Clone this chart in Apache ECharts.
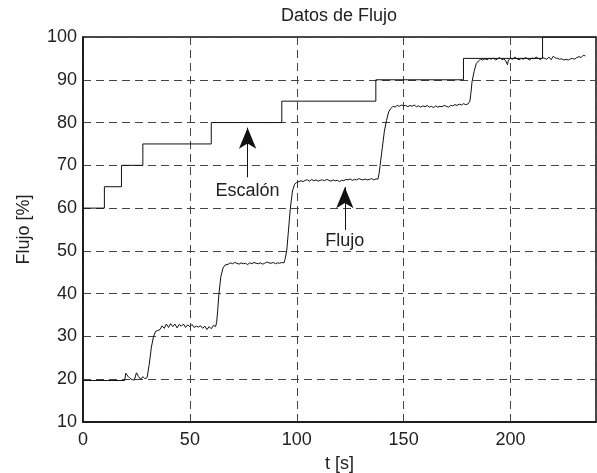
<!DOCTYPE html>
<html lang="es">
<head>
    <meta charset="UTF-8">
    <title>Datos de Flujo</title>
    <script src="https://cdn.jsdelivr.net/npm/echarts@6/dist/echarts.min.js"></script>
    <style>
        html, body { margin: 0; padding: 0; background: #fff; }
        #main { width: 597px; height: 473px; }
    </style>
</head>
<body>
<div id="main"></div>
<script>
    // escalon de referencia [t, %]
    var escalon = [[0, 60], [10, 65], [18, 70], [28, 75], [60, 80], [93, 85], [137, 90], [178, 95], [215, 100], [240, 100]];

    // flujo medido [t, %]
    var flujo = [
        [0, 19.7], [19.5, 19.7], [20, 21.4], [21, 20.7], [22, 20.2], [23, 19.9], [24, 19.8], [25, 21.5], [26, 20.6], [27, 20.0],
        [28, 20.6], [29, 20.1], [30, 20.4], [31, 23.5], [32, 27.5], [33, 30.0], [34, 31.2], [35, 31.4], [36, 31.6],
        [37, 32.5], [38, 31.9], [39, 32.9], [40, 32.1], [41, 33.0], [42, 32.3], [43, 32.9], [44, 32.0], [45, 32.8], [46, 32.4],
        [47, 32.9], [48, 32.1], [49, 32.7], [50, 32.3], [51, 32.8], [52, 32.1], [53, 32.4], [54, 32.2], [55, 32.5], [56, 31.9],
        [57, 32.4], [58, 31.6], [59, 32.3], [60, 31.8], [61, 32.6], [62, 32.3],
        [62.5, 33.2], [63, 36], [63.6, 40], [64.5, 44], [65.5, 46], [66.5, 46.7], [67, 47.1], [68, 46.9], [69, 47.2], [70, 47.0],
        [71, 47.3], [72, 47.1], [73, 46.9], [74, 47.2], [75, 47.0], [76, 47.1], [77, 46.8], [78, 47.2], [79, 47.0], [80, 47.3],
        [81, 47.1], [82, 47.0], [83, 47.2], [84, 46.9], [85, 47.1], [86, 47.4], [87, 47.2], [88, 47.1], [89, 47.3], [90, 47.0],
        [91, 47.2], [92, 47.1], [93, 47.3], [94, 47.2],
        [94.5, 48], [95.3, 50], [96, 54], [97, 60], [98, 64], [99, 65.6], [100, 66.0], [101, 66.2], [102, 66.4], [103, 66.2],
        [104, 66.5], [105, 66.6], [106, 66.3], [107, 66.7], [108, 66.4], [109, 66.6], [110, 66.3], [111, 66.5], [112, 66.6],
        [113, 66.4], [114, 66.7], [115, 66.5], [116, 66.3], [117, 66.6], [118, 66.4], [119, 66.5], [120, 66.2], [121, 66.5],
        [122, 66.4], [123, 66.7], [124, 66.6], [125, 66.8], [126, 66.5], [127, 66.7], [128, 66.6], [129, 66.9], [130, 66.7],
        [131, 66.6], [132, 66.8], [133, 66.6], [134, 66.7], [135, 66.9], [136, 66.6], [137, 66.8], [138, 66.8],
        [138.5, 68], [139, 70], [140, 74], [141, 78], [142, 80.5], [143, 82.5], [144, 83.3], [145, 83.8], [146, 83.6], [147, 84.0],
        [148, 83.8], [149, 84.1], [150, 83.9], [151, 84.0], [152, 83.7], [153, 84.0], [154, 83.8], [155, 84.1], [156, 83.7],
        [157, 83.9], [158, 83.6], [159, 83.9], [160, 83.7], [161, 84.0], [162, 83.6], [163, 83.8], [164, 83.5], [165, 83.9],
        [166, 83.6], [167, 83.8], [168, 83.7], [169, 84.0], [170, 83.8], [171, 83.6], [172, 84.0], [173, 83.9], [174, 84.2],
        [175, 84.0], [176, 84.3], [177, 84.1], [178, 84.4], [179, 84.2], [180, 84.3],
        [181, 85], [181.5, 87], [182, 89.5], [183, 92], [184, 93.8], [185, 94.4], [186, 94.8], [187, 94.6], [188, 94.9],
        [189, 94.7], [190, 95.0], [191, 94.8], [192, 95.1], [193, 94.6], [194, 94.9], [195, 95.2], [196, 94.7], [197, 94.9],
        [198, 94.2], [198.6, 93.5], [199, 94.6], [200, 95.0], [201, 94.8], [202, 95.3], [203, 94.9], [204, 94.7], [205, 95.0],
        [206, 94.8], [207, 95.2], [208, 94.9], [209, 94.6], [210, 95.1], [211, 94.9], [212, 95.3], [213, 95.0], [214, 94.7],
        [215, 95.2], [216, 95.0], [217, 94.8], [218, 95.3], [219, 94.7], [220, 95.5], [221, 95.1], [222, 95.0], [223, 94.8],
        [224, 94.9], [225, 94.6], [226, 94.8], [227, 94.6], [228, 94.9], [229, 95.0], [230, 94.8], [231, 95.2], [232, 95.4],
        [233, 95.2], [234, 95.7], [235, 95.6]
    ];

    // anotaciones: flecha desde / hasta, posicion del texto
    var flechaEscalon = [[77, 67.2], [77, 78.8]];
    var textoEscalon = [77, 63.9];
    var flechaFlujo = [[122.5, 54.9], [122.5, 64.9]];
    var textoFlujo = [122.5, 52.2];

    var fuente = 'Liberation Sans, Arial, sans-serif';
    var chart = echarts.init(document.getElementById('main'));

    var option = {
        animation: false,
        backgroundColor: '#fff',
        title: {
            text: 'Datos de Flujo',
            left: 276,
            top: 2,
            textStyle: { fontFamily: fuente, fontSize: 18, fontWeight: 'normal', color: '#222' }
        },
        grid: {
            left: 83, right: 1, top: 37, bottom: 51,
            outerBoundsMode: 'none',
            show: true, borderColor: '#111', borderWidth: 1.5
        },
        xAxis: {
            type: 'value',
            min: 0, max: 240, interval: 50,
            name: 't [s]',
            nameLocation: 'middle',
            nameGap: 33,
            nameTextStyle: { fontFamily: fuente, fontSize: 18, color: '#222' },
            axisLine: { lineStyle: { color: '#111', width: 1.5 } },
            axisTick: { show: false },
            axisLabel: { fontFamily: fuente, fontSize: 18, color: '#222', margin: 9, showMaxLabel: false },
            splitLine: { show: true, lineStyle: { color: '#444', width: 1, type: [8, 5] } }
        },
        yAxis: {
            type: 'value',
            min: 10, max: 100, interval: 10,
            name: 'Flujo [%]',
            nameLocation: 'middle',
            nameGap: 50,
            nameTextStyle: { fontFamily: fuente, fontSize: 18, color: '#222' },
            axisLine: { show: true, lineStyle: { color: '#111', width: 1.5 } },
            axisTick: { show: false },
            axisLabel: { fontFamily: fuente, fontSize: 18, color: '#222', margin: 6 },
            splitLine: { show: true, lineStyle: { color: '#444', width: 1, type: [8, 5] } }
        },
        series: [
            {
                name: 'Escalón',
                type: 'line',
                step: 'end',
                data: escalon,
                symbol: 'none',
                lineStyle: { color: '#111', width: 1 },
                markLine: {
                    silent: true,
                    symbol: ['none', 'arrow'],
                    symbolSize: [13, 21],
                    label: { show: false },
                    lineStyle: { color: '#111', width: 1, type: 'solid' },
                    data: [[{ coord: flechaEscalon[0] }, { coord: flechaEscalon[1] }]]
                },
                markPoint: {
                    silent: true,
                    symbol: 'circle',
                    symbolSize: 0,
                    label: {
                        show: true, position: 'inside', formatter: 'Escalón',
                        fontFamily: fuente, fontSize: 18, color: '#222'
                    },
                    data: [{ coord: textoEscalon }]
                }
            },
            {
                name: 'Flujo',
                type: 'line',
                data: flujo,
                symbol: 'none',
                lineStyle: { color: '#111', width: 1 },
                markLine: {
                    silent: true,
                    symbol: ['none', 'arrow'],
                    symbolSize: [13, 21],
                    label: { show: false },
                    lineStyle: { color: '#111', width: 1, type: 'solid' },
                    data: [[{ coord: flechaFlujo[0] }, { coord: flechaFlujo[1] }]]
                },
                markPoint: {
                    silent: true,
                    symbol: 'circle',
                    symbolSize: 0,
                    label: {
                        show: true, position: 'inside', formatter: 'Flujo',
                        fontFamily: fuente, fontSize: 18, color: '#222'
                    },
                    data: [{ coord: textoFlujo }]
                }
            }
        ]
    };

    chart.setOption(option);
</script>
</body>
</html>
